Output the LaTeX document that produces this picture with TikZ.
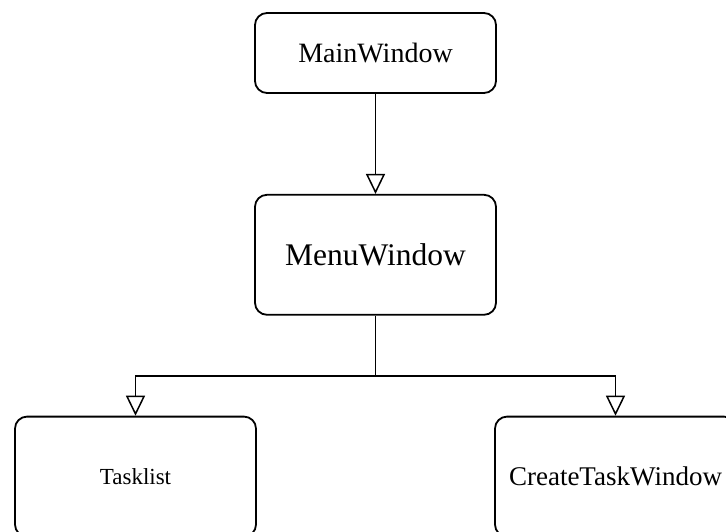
\documentclass[tikz,border=0pt]{standalone}
\usepackage{fontspec}
\setmainfont{Liberation Serif}
\usetikzlibrary{positioning,arrows.meta}

\tikzset{
  winbox/.style={draw=black,line width=1.8pt,rounded corners=12pt,minimum width=241pt,inner sep=0pt},
  openarrow/.style={-{Triangle[open,width=19pt,length=20pt,line width=1.5pt]},line width=1.8pt}
}

\begin{document}
\begin{tikzpicture}
			\clip (0,0) rectangle (726pt,-532pt);
			
			\node[winbox,minimum height=80pt] (main) at (375.5pt,-53pt) {\fontsize{28}{32}\selectfont MainWindow};
			
			\node[winbox,minimum height=120pt,below=100pt of main] (menu) {\fontsize{31.5}{36}\selectfont MenuWindow};
			
			\node[winbox,minimum height=120pt,below=100pt of menu,xshift=-240pt] (tasklist) {\fontsize{23}{27}\selectfont Tasklist};
			\node[winbox,minimum height=120pt,below=100pt of menu,xshift=240pt] (create) {\fontsize{27}{31}\selectfont CreateTaskWindow};
			
			\coordinate[below=60pt of menu.south] (split);
			
			\draw[openarrow] (main.south)--(menu.north);
			\draw[openarrow] (menu.south)--(split)-|(tasklist.north);
			\draw[openarrow] (split)-|(create.north);
		\end{tikzpicture}
\end{document}
